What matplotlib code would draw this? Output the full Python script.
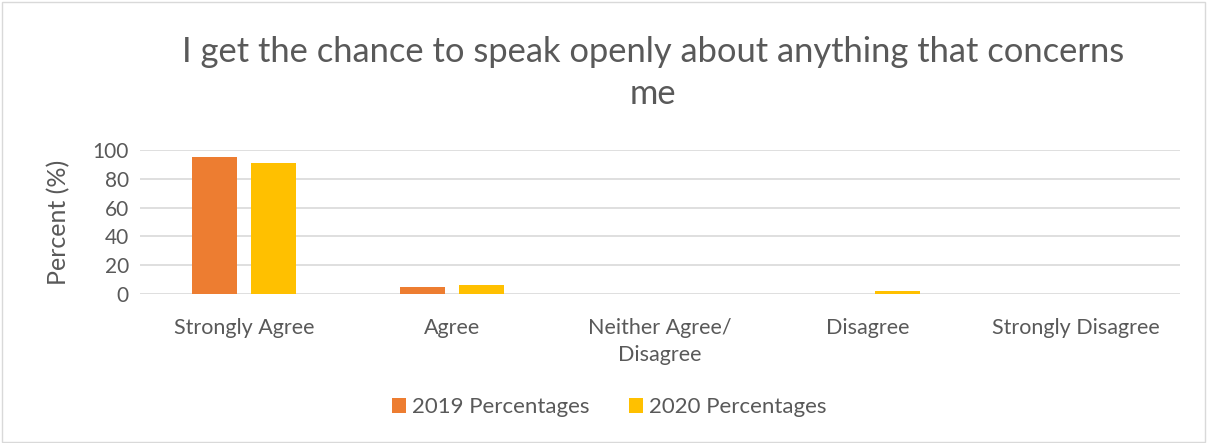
import numpy as np
import matplotlib.pyplot as plt
from matplotlib.patches import Rectangle

plt.rcParams['font.family'] = ['Lato', 'DejaVu Sans']

categories = ['Strongly Agree', 'Agree', 'Neither Agree/\nDisagree', 'Disagree', 'Strongly Disagree']
pct_2019 = [95, 5, 0, 0, 0]
pct_2020 = [91, 6, 0, 2, 0]

c2019 = '#ed7d31'
c2020 = '#ffc000'
text_col = '#595959'

fig = plt.figure(figsize=(12.09, 4.43), dpi=100)
ax = fig.add_axes([140 / 1209, 1 - 294 / 443, 1040 / 1209, 144 / 443])

x = np.arange(len(categories))
w = 0.22
ax.bar(x - 0.142, pct_2019, w, color=c2019, label='2019 Percentages', zorder=3)
ax.bar(x + 0.142, pct_2020, w, color=c2020, label='2020 Percentages', zorder=3)

ax.set_xlim(-0.5, len(categories) - 0.5)
ax.set_ylim(0, 100)
ax.set_yticks(range(0, 101, 20))
ax.yaxis.grid(True, color='#d9d9d9', linewidth=1.2, zorder=0)
for s in ax.spines.values():
    s.set_visible(False)
ax.tick_params(axis='y', length=0, labelsize=15, colors=text_col, pad=8)
ax.tick_params(axis='x', length=0, labelsize=15.5, colors=text_col, pad=17)
ax.set_xticks(x)
ax.set_xticklabels(categories, va='top', linespacing=1.45)
ax.set_ylabel('Percent (%)', fontsize=18, color=text_col, labelpad=16)

fig.text(653 / 1209, 1 - 73 / 443, 'I get the chance to speak openly about anything that concerns\nme',
         ha='center', va='center', fontsize=24.8, color=text_col, linespacing=1.4)

ax.legend(loc='center', bbox_to_anchor=(609 / 1209, (443 - 407) / 443), bbox_transform=fig.transFigure,
          ncol=2, frameon=False, fontsize=16, labelcolor=text_col, handlelength=0.65,
          handleheight=0.65, handletextpad=0.25, columnspacing=1.8)

fig.patches.append(Rectangle((0.002, 0.003), 0.995, 0.992, transform=fig.transFigure,
                             fill=False, edgecolor='#d9d9d9', linewidth=1))

fig.savefig('out.png', dpi=100)
